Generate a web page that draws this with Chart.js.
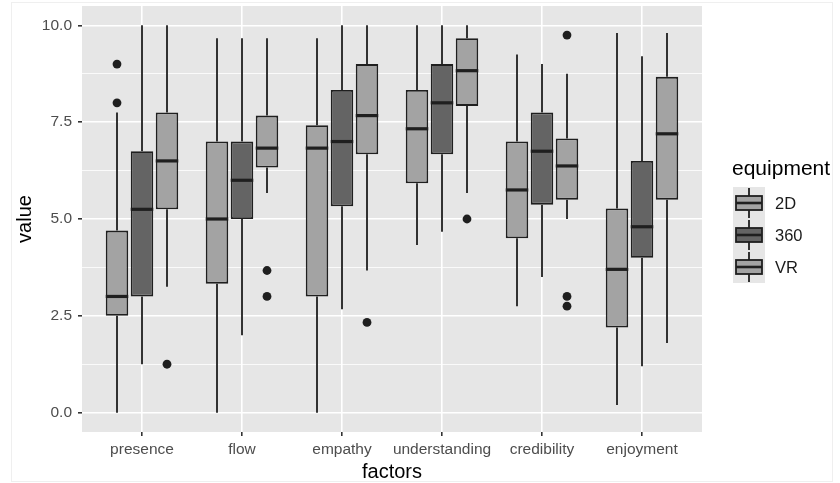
<!DOCTYPE html>
<html>
<head>
<meta charset="utf-8">
<script src="https://cdn.jsdelivr.net/npm/chart.js@4.4.1/dist/chart.umd.min.js"></script>
<style>
  html, body { margin: 0; padding: 0; background: #fff; }
  #wrap { width: 840px; height: 483px; }
</style>
</head>
<body>
<div id="wrap"><canvas id="chart" width="840" height="483"></canvas></div>
<script>
// ── Data ─────────────────────────────────────────────────────────────────────
const FACTORS   = ["presence", "flow", "empathy", "understanding", "credibility", "enjoyment"];
const EQUIPMENT = ["2D", "360", "VR"];
const Y_TICKS   = [0, 2.5, 5, 7.5, 10];
const Y_MINOR   = [1.25, 3.75, 6.25, 8.75];

// 2D
const LOW_2D  = [0, 0, 0, 4.33, 2.75, 0.2];
const Q1_2D   = [2.5, 3.33, 3.0, 5.92, 4.5, 2.2];
const MED_2D  = [3.0, 5.0, 6.83, 7.33, 5.75, 3.7];
const Q3_2D   = [4.7, 7.0, 7.42, 8.33, 7.0, 5.27];
const HIGH_2D = [7.75, 9.67, 9.67, 10, 9.25, 9.8];
const OUT_2D  = [[9, 8], [], [], [], [], []];

// 360
const LOW_360  = [1.25, 2.0, 2.67, 4.67, 3.5, 1.2];
const Q1_360   = [3.0, 5.0, 5.33, 6.67, 5.37, 4.0];
const MED_360  = [5.25, 6.0, 7.0, 8.0, 6.75, 4.8];
const Q3_360   = [6.75, 7.0, 8.33, 9.0, 7.75, 6.5];
const HIGH_360 = [10, 9.67, 10, 10, 9.0, 9.2];
const OUT_360  = [[], [], [], [], [], []];

// VR
const LOW_VR  = [3.25, 5.67, 3.67, 5.67, 5.0, 1.8];
const Q1_VR   = [5.25, 6.33, 6.67, 7.92, 5.5, 5.5];
const MED_VR  = [6.5, 6.83, 7.67, 8.83, 6.37, 7.2];
const Q3_VR   = [7.75, 7.67, 9.0, 9.67, 7.08, 8.67];
const HIGH_VR = [10, 9.67, 10, 10, 8.75, 9.8];
const OUT_VR  = [[1.25], [3.67, 3.0], [2.33], [5.0], [9.75, 3.0, 2.75], []];

// ── Style ────────────────────────────────────────────────────────────────────
const FILLS = ["#a3a3a3", "#646464", "#a3a3a3"];
const LINE  = "#1f1f1f";
const PANEL = "#e6e6e6";
const FONT  = "'Liberation Sans', Arial, sans-serif";

function makeDataset(name, fill, low, q1, med, q3, high, out) {
  return {
    label: name,
    data: FACTORS.map((f, i) => ({ x: i + 1, y: [q1[i], q3[i]] })),
    low, med, high, out,
    backgroundColor: fill,
    borderColor: LINE,
    borderWidth: 1.8,
    borderSkipped: false,
    barPercentage: 0.9,
    categoryPercentage: 0.75,
  };
}

// ── Box parts: panel, whiskers, medians, outliers, legend ───────────────────
const boxParts = {
  id: "boxParts",
  beforeDraw(chart) {
    const { ctx, chartArea: a } = chart;
    ctx.save();
    ctx.fillStyle = "#fff";
    ctx.fillRect(0, 0, chart.width, chart.height);
    ctx.strokeStyle = "#efefef";
    ctx.lineWidth = 1;
    ctx.strokeRect(11.5, 2.5, 821, 479);
    ctx.fillStyle = PANEL;
    ctx.fillRect(a.left, a.top, a.right - a.left, a.bottom - a.top);
    ctx.restore();
  },
  beforeDatasetsDraw(chart) {
    const { ctx, scales: { y } } = chart;
    ctx.save();
    ctx.strokeStyle = LINE;
    ctx.lineWidth = 1.8;
    chart.data.datasets.forEach((ds, d) => {
      chart.getDatasetMeta(d).data.forEach((bar, i) => {
        ctx.beginPath();
        ctx.moveTo(bar.x, y.getPixelForValue(ds.high[i]));
        ctx.lineTo(bar.x, y.getPixelForValue(ds.data[i].y[1]));
        ctx.moveTo(bar.x, y.getPixelForValue(ds.data[i].y[0]));
        ctx.lineTo(bar.x, y.getPixelForValue(ds.low[i]));
        ctx.stroke();
      });
    });
    ctx.restore();
  },
  afterDatasetsDraw(chart) {
    const { ctx, scales: { y } } = chart;
    ctx.save();
    chart.data.datasets.forEach((ds, d) => {
      chart.getDatasetMeta(d).data.forEach((bar, i) => {
        const py = y.getPixelForValue(ds.med[i]);
        ctx.strokeStyle = LINE;
        ctx.lineWidth = 3.2;
        ctx.beginPath();
        ctx.moveTo(bar.x - bar.width / 2, py);
        ctx.lineTo(bar.x + bar.width / 2, py);
        ctx.stroke();
        ctx.fillStyle = LINE;
        ds.out[i].forEach(v => {
          ctx.beginPath();
          ctx.arc(bar.x, y.getPixelForValue(v), 4.4, 0, Math.PI * 2);
          ctx.fill();
        });
      });
    });
    ctx.restore();
  },
  afterDraw(chart) {
    const ctx = chart.ctx;
    ctx.save();
    ctx.fillStyle = "#000";
    ctx.font = `21px ${FONT}`;
    ctx.textBaseline = "middle";
    ctx.textAlign = "left";
    ctx.fillText("equipment", 732, 169);
    // key background
    const kx = 733, kw = 32, ky = 187, kh = 32;
    ctx.fillStyle = "#e6e6e6";
    ctx.fillRect(kx, ky, kw, kh * EQUIPMENT.length);
    EQUIPMENT.forEach((name, k) => {
      const cy = ky + kh * k + kh / 2;
      const cx = kx + kw / 2;
      ctx.strokeStyle = LINE;
      ctx.lineWidth = 1.8;
      ctx.beginPath();
      ctx.moveTo(cx, cy - 15); ctx.lineTo(cx, cy - 7);
      ctx.moveTo(cx, cy + 7);  ctx.lineTo(cx, cy + 15);
      ctx.stroke();
      ctx.fillStyle = FILLS[k];
      ctx.fillRect(kx + 3, cy - 7, kw - 6, 14);
      ctx.strokeRect(kx + 3, cy - 7, kw - 6, 14);
      ctx.lineWidth = 2.6;
      ctx.beginPath();
      ctx.moveTo(kx + 3, cy); ctx.lineTo(kx + kw - 3, cy);
      ctx.stroke();
      ctx.fillStyle = "#1a1a1a";
      ctx.font = `16.5px ${FONT}`;
      ctx.fillText(name, 775, cy + 1);
    });
    ctx.restore();
  },
};

// ── Chart ────────────────────────────────────────────────────────────────────
new Chart(document.getElementById("chart"), {
  type: "bar",
  data: {
    datasets: [
      makeDataset(EQUIPMENT[0], FILLS[0], LOW_2D, Q1_2D, MED_2D, Q3_2D, HIGH_2D, OUT_2D),
      makeDataset(EQUIPMENT[1], FILLS[1], LOW_360, Q1_360, MED_360, Q3_360, HIGH_360, OUT_360),
      makeDataset(EQUIPMENT[2], FILLS[2], LOW_VR, Q1_VR, MED_VR, Q3_VR, HIGH_VR, OUT_VR),
    ],
  },
  options: {
    responsive: false,
    devicePixelRatio: 1,
    animation: false,
    layout: { padding: { left: 0, right: 138, top: 6, bottom: 0 } },
    plugins: { legend: { display: false }, tooltip: { enabled: false } },
    scales: {
      x: {
        type: "linear",
        min: 0.4,
        max: 6.6,
        offset: false,
        afterBuildTicks: s => { s.ticks = FACTORS.map((f, i) => ({ value: i + 1 })); },
        afterFit: s => { s.height = 51; s.paddingLeft = 0; s.paddingRight = 0; },
        ticks: {
          autoSkip: false,
          maxRotation: 0,
          padding: 4,
          color: "#4d4d4d",
          font: { family: FONT, size: 15.5 },
          callback: v => FACTORS[Math.round(v) - 1],
        },
        grid: {
          offset: false,
          color: "#ffffff",
          lineWidth: 1.6,
          tickLength: 4,
          tickColor: "#333333",
          tickWidth: 1.6,
        },
        border: { display: false },
        title: {
          display: true,
          text: "factors",
          color: "#000",
          font: { family: FONT, size: 20, lineHeight: 1.1 },
          padding: { top: 0, bottom: 0 },
        },
      },
      y: {
        min: -0.5,
        max: 10.5,
        afterBuildTicks: s => {
          s.ticks = Y_TICKS.concat(Y_MINOR).sort((a, b) => a - b).map(v => ({ value: v }));
        },
        afterFit: s => { s.width = 82; s.paddingTop = 0; s.paddingBottom = 0; },
        ticks: {
          autoSkip: false,
          padding: 6,
          color: "#4d4d4d",
          font: { family: FONT, size: 15.5 },
          callback: v => (Y_TICKS.includes(v) ? v.toFixed(1) : ""),
        },
        grid: {
          color: "#ffffff",
          lineWidth: c => (Y_TICKS.includes(c.tick.value) ? 1.6 : 0.8),
          tickLength: 4,
          tickColor: c => (Y_TICKS.includes(c.tick.value) ? "#333333" : "rgba(0,0,0,0)"),
          tickWidth: 1.6,
        },
        border: { display: false },
        title: {
          display: true,
          text: "value",
          color: "#000",
          font: { family: FONT, size: 20, lineHeight: 1.2 },
          padding: { top: 13, bottom: 0 },
        },
      },
    },
  },
  plugins: [boxParts],
});
</script>
</body>
</html>
